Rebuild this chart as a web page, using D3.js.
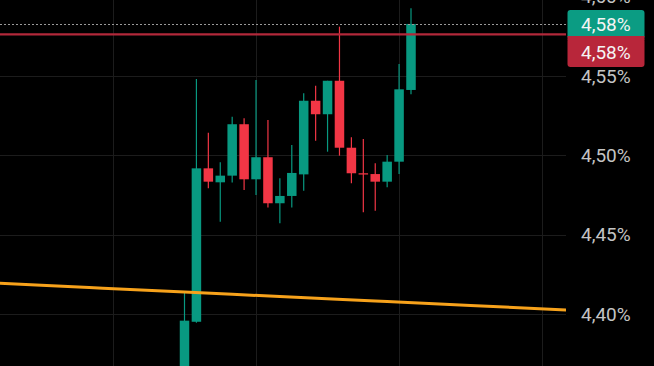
<!DOCTYPE html>
<html><head><meta charset="utf-8">
<script src="https://cdn.jsdelivr.net/npm/d3@7"></script>
<style>html,body{margin:0;padding:0;background:#000;overflow:hidden}</style>
</head><body><svg id="c" width="654" height="366"></svg>
<script>
// Candle data (percent yield)
const opens  = [4.3458,4.3951,4.4918,4.4830,4.4872,4.5196,4.4849,4.4988,4.4698,4.4744,4.4880,4.5344,4.5259,4.5470,4.5048,4.4887,4.4882,4.4834,4.4960,4.5412];
const highs  = [4.4141,4.5481,4.5143,4.4956,4.5243,4.5233,4.5475,4.5223,4.4855,4.5065,4.5391,4.5439,4.5470,4.5811,4.5114,4.5103,4.4950,4.5002,4.5576,4.5927];
const lows   = [4.3400,4.3945,4.4792,4.4582,4.4828,4.4781,4.4750,4.4672,4.4572,4.4672,4.4777,4.5092,4.5023,4.4998,4.4824,4.4641,4.4651,4.4799,4.4882,4.5385];
const closes = [4.3958,4.4918,4.4834,4.4872,4.5196,4.4849,4.4988,4.4698,4.4744,4.4889,4.5344,4.5259,4.5470,4.5048,4.4887,4.4879,4.4834,4.4960,4.5416,4.5828];
// Moving average (orange)
const maIndex  = [-16,-8,0,8,16,24,32];
const maValues = [4.4195,4.4167,4.4139,4.4110,4.4082,4.4054,4.4025];
// Axis
const yTicks = [4.40,4.45,4.50,4.55,4.60];
const xGrid  = [-6,6,18,30];
const lastPrice = 4.5828;
const refPrice  = 4.5762;
const priceLabels = ["4,58%","4,58%"];

const W = 654, H = 366, plotR = 566;
const svg = d3.select("#c");
const x = d3.scaleLinear().domain([0,19]).range([184.5,411]);
const y = d3.scaleLinear().domain([4.40,4.55]).range([314,76]);
const fmt = d => d.toFixed(2).replace(".", ",") + "%";
const GREEN = "#089981", RED = "#f23645";

svg.append("rect").attr("width",W).attr("height",H).attr("fill","#000");
svg.append("clipPath").attr("id","pc").append("rect").attr("x",0).attr("y",0).attr("width",plotR).attr("height",H);
const g = svg.append("g").attr("clip-path","url(#pc)");

// grid
g.selectAll(".hg").data(yTicks).join("line")
  .attr("x1",0).attr("x2",plotR).attr("y1",d=>Math.round(y(d))+0.5).attr("y2",d=>Math.round(y(d))+0.5)
  .attr("stroke","#1c1c1c").attr("stroke-width",1);
g.selectAll(".vg").data(xGrid).join("line")
  .attr("y1",0).attr("y2",H).attr("x1",d=>Math.round(x(d))+0.5).attr("x2",d=>Math.round(x(d))+0.5)
  .attr("stroke","#1c1c1c").attr("stroke-width",1);

// candles
const idx = d3.range(opens.length);
const bw = 9.5;
const cg = g.append("g");
cg.selectAll(".w").data(idx).join("line")
  .attr("x1",i=>x(i)).attr("x2",i=>x(i))
  .attr("y1",i=>y(highs[i])).attr("y2",i=>y(lows[i]))
  .attr("stroke",i=>closes[i]>=opens[i]?GREEN:RED).attr("stroke-width",1.2);
cg.selectAll(".b").data(idx).join("rect")
  .attr("x",i=>x(i)-bw/2).attr("width",bw)
  .attr("y",i=>y(Math.max(opens[i],closes[i])))
  .attr("height",i=>Math.max(1.2, Math.abs(y(opens[i])-y(closes[i]))))
  .attr("fill",i=>closes[i]>=opens[i]?GREEN:RED);

// moving average
const line = d3.line().x((d,k)=>x(maIndex[k])).y(d=>y(d)).curve(d3.curveMonotoneX);
g.append("path").datum(maValues).attr("d",line).attr("fill","none")
  .attr("stroke","#f7a21b").attr("stroke-width",3).attr("stroke-linecap","round");

// price lines
g.append("line").attr("x1",0).attr("x2",plotR).attr("y1",y(refPrice)).attr("y2",y(refPrice))
  .attr("stroke","#b2283a").attr("stroke-width",2.2);
g.append("line").attr("x1",0).attr("x2",plotR).attr("y1",Math.round(y(lastPrice))+0.5).attr("y2",Math.round(y(lastPrice))+0.5)
  .attr("stroke","#9a9a9a").attr("stroke-width",1).attr("stroke-dasharray","2,2");

// y axis labels
const ax = svg.append("g").attr("transform",`translate(${plotR},0)`)
  .call(d3.axisRight(y).tickValues(yTicks).tickFormat(fmt).tickSize(0).tickPadding(15));
ax.select(".domain").remove();
ax.selectAll("text").attr("fill","#c4c4c4").attr("font-family","Roboto, sans-serif").attr("font-size",19);

// price label boxes
const boxes = [{v:lastPrice, top:10, col:"#0b9c83", txt:priceLabels[0]},{v:refPrice, top:38, col:"#b8263a", txt:priceLabels[1]}];
const bg = svg.append("g");
bg.append("rect").attr("x",567.5).attr("y",boxes[0].top).attr("width",77).attr("height",29).attr("rx",3).attr("fill",boxes[0].col);
bg.append("rect").attr("x",567.5).attr("y",boxes[1].top).attr("width",77).attr("height",29).attr("rx",3).attr("fill",boxes[1].col);
bg.append("rect").attr("x",567.5).attr("y",36).attr("width",77).attr("height",4).attr("fill",boxes[1].col);
bg.selectAll("text").data(boxes).join("text")
  .attr("x",581).attr("y",d=>d.top+14.5).attr("dy","0.35em")
  .attr("fill","#f4f4f4").attr("font-family","Roboto, sans-serif").attr("font-size",19)
  .text(d=>d.txt);
</script></body></html>
